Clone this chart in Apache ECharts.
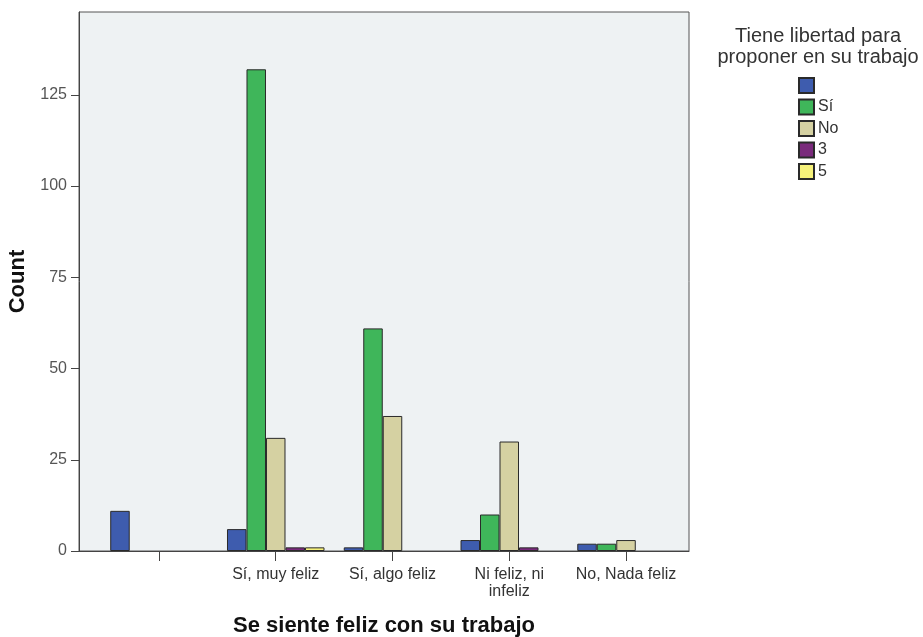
<!DOCTYPE html>
<html>
<head>
<meta charset="utf-8">
<script src="https://cdn.jsdelivr.net/npm/echarts@6/dist/echarts.min.js"></script>
<style>
  html, body { margin: 0; padding: 0; background: #fff; }
  #chart { width: 923px; height: 637px; }
</style>
</head>
<body>
<div id="chart"></div>
<script>
// categorias del eje x (la primera es la respuesta vacia)
var categories = ['', 'Sí, muy feliz', 'Sí, algo feliz', 'Ni feliz, ni\ninfeliz', 'No, Nada feliz'];
// series: respuestas a "Tiene libertad para proponer en su trabajo"
var seriesNames = [' ', 'Sí', 'No', '3', '5'];
var vacio = [11, 6, 1, 3, 2];
var si = [null, 132, 61, 10, 2];
var no = [null, 31, 37, 30, 3];
var tres = [null, 1, null, 1, null];
var cinco = [null, 1, null, null, null];
var yTicks = [0, 25, 50, 75, 100, 125];

var colors = ['#3e5cae', '#3fb65a', '#d5d1a2', '#7a2a7c', '#f6f27a'];
var font = 'Liberation Sans, Arial, sans-serif';
var yMax = 147.7;

var myChart = echarts.init(document.getElementById('chart'));

function barSerie(i, data) {
  return {
    name: seriesNames[i],
    type: 'bar',
    xAxisIndex: 1,
    yAxisIndex: 1,
    data: data,
    barWidth: 19.5,
    barGap: '0%',
    itemStyle: { color: colors[i], borderColor: '#2a2a2a', borderWidth: 1 },
    emphasis: { disabled: true }
  };
}

var option = {
  backgroundColor: '#ffffff',
  animation: false,
  textStyle: { fontFamily: font },
  title: {
    text: 'Tiene libertad para\nproponer en su trabajo',
    left: 818,
    top: 26,
    padding: 0,
    textAlign: 'center',
    textStyle: { fontSize: 20, fontWeight: 'normal', color: '#333', lineHeight: 21, fontFamily: font }
  },
  legend: {
    data: seriesNames,
    orient: 'vertical',
    left: 798,
    top: 77,
    padding: 0,
    itemWidth: 15,
    itemHeight: 15,
    itemGap: 4.5,
    icon: 'rect',
    selectedMode: false,
    textStyle: { fontSize: 16, lineHeight: 15, color: '#333', padding: [0, 0, 0, -1], fontFamily: font }
  },
  grid: [
    { left: 79, top: 12, width: 610, height: 539, show: true, backgroundColor: '#eef2f3', borderColor: '#555', borderWidth: 1, outerBoundsMode: 'none', containLabel: false },
    { left: 100.6, top: 12, width: 583.8, height: 539, outerBoundsMode: 'none', containLabel: false }
  ],
  xAxis: [
    {
      type: 'value', gridIndex: 0, min: 0, max: 1,
      axisLine: { show: true, lineStyle: { color: '#444' } },
      axisTick: { show: false }, axisLabel: { show: false }, splitLine: { show: false },
      name: 'Se siente feliz con su trabajo',
      nameLocation: 'middle',
      nameGap: 64,
      nameTextStyle: { fontSize: 22, fontWeight: 'bold', color: '#111', fontFamily: font }
    },
    {
      type: 'category', gridIndex: 1, data: categories,
      axisLine: { show: false },
      axisTick: { show: true, alignWithLabel: true, length: 10, lineStyle: { color: '#444' } },
      axisLabel: { fontSize: 16, color: '#333', margin: 15, lineHeight: 17, interval: 0, fontFamily: font }
    }
  ],
  yAxis: [
    {
      type: 'value', gridIndex: 0, min: 0, max: yMax, interval: 25,
      axisLine: { show: true, lineStyle: { color: '#444' } },
      axisTick: { show: true, length: 8, lineStyle: { color: '#444' } },
      axisLabel: {
        fontSize: 16, color: '#555', margin: 12, showMaxLabel: false, fontFamily: font,
        formatter: function (v) { return yTicks.indexOf(v) >= 0 ? String(v) : ''; }
      },
      splitLine: { show: false },
      name: 'Count',
      nameLocation: 'middle',
      nameGap: 48,
      nameRotate: 90,
      nameTextStyle: { fontSize: 22, fontWeight: 'bold', color: '#111', fontFamily: font }
    },
    { type: 'value', gridIndex: 1, min: 0, max: yMax, show: false }
  ],
  series: [
    barSerie(0, vacio),
    barSerie(1, si),
    barSerie(2, no),
    barSerie(3, tres),
    barSerie(4, cinco)
  ]
};

myChart.setOption(option);
</script>
</body>
</html>
